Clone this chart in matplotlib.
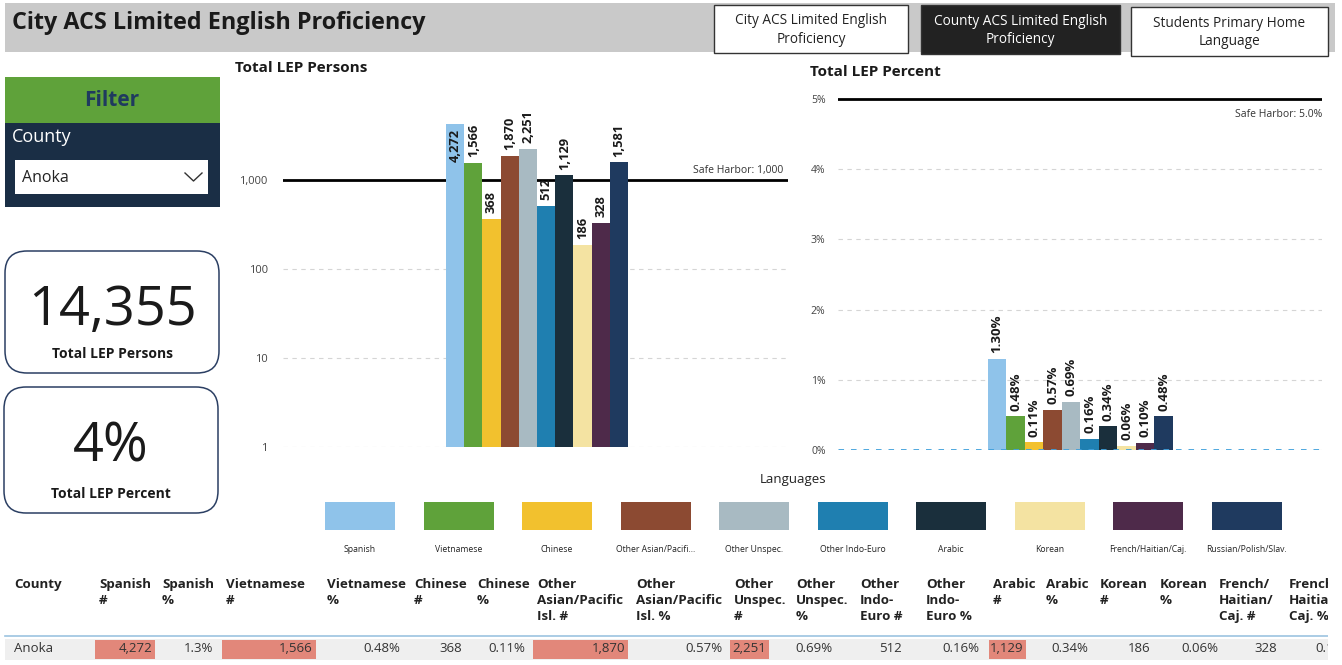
import numpy as np
import matplotlib.pyplot as plt
from matplotlib.patches import Rectangle, FancyBboxPatch

plt.rcParams['font.family'] = ['Open Sans', 'DejaVu Sans']

# data
county = 'Anoka'
languages = ['Spanish', 'Vietnamese', 'Chinese', 'Other Asian/Pacific Isl.', 'Other Unspec.',
             'Other Indo-Euro', 'Arabic', 'Korean', 'French/Haitian/Caj.', 'Russian/Polish/Slav.']
legend_labels = ['Spanish', 'Vietnamese', 'Chinese', 'Other Asian/Pacifi...', 'Other Unspec.',
                 'Other Indo-Euro', 'Arabic', 'Korean', 'French/Haitian/Caj.', 'Russian/Polish/Slav.']
persons = [4272, 1566, 368, 1870, 2251, 512, 1129, 186, 328, 1581]
percents = [1.30, 0.48, 0.11, 0.57, 0.69, 0.16, 0.34, 0.06, 0.10, 0.48]
colors = ['#8FC3EA', '#5FA23A', '#F2C12E', '#8C4A32', '#A8BAC2',
          '#1F7FB0', '#1A2F3C', '#F4E3A2', '#4E2A4A', '#1F3A5F']
total_persons = 14355
total_percent = 4
safe_harbor_persons = 1000
safe_harbor_pct = 5.0

# table (only the first 9 languages fit on screen)
table_headers = ['Spanish\n#', 'Spanish\n%', 'Vietnamese\n#', 'Vietnamese\n%', 'Chinese\n#', 'Chinese\n%',
                 'Other\nAsian/Pacific\nIsl. #', 'Other\nAsian/Pacific\nIsl. %', 'Other\nUnspec.\n#',
                 'Other\nUnspec.\n%', 'Other\nIndo-\nEuro #', 'Other\nIndo-\nEuro %', 'Arabic\n#', 'Arabic\n%',
                 'Korean\n#', 'Korean\n%', 'French/\nHaitian/\nCaj. #', 'French/\nHaitian/\nCaj. %']

W, H = 1342, 665
fig = plt.figure(figsize=(W / 100, H / 100), dpi=100)
fig.patch.set_facecolor('white')


def px_axes(x0, y0, x1, y1):
    return fig.add_axes([x0 / W, 1 - y1 / H, (x1 - x0) / W, (y1 - y0) / H])


bg = fig.add_axes([0, 0, 1, 1])
bg.set_xlim(0, W)
bg.set_ylim(H, 0)
bg.axis('off')

# header band
bg.add_patch(Rectangle((5, 3), 1330, 49, color='#C9C9C9', lw=0))
bg.text(12, 23, 'City ACS Limited English Proficiency', fontsize=16.8, fontweight='bold',
        color='#1a1a1a', va='center')
buttons = [(714, 5, 908, 53, 'white', '#222222', 'City ACS Limited English\nProficiency'),
           (921, 5, 1120, 54, '#222222', 'white', 'County ACS Limited English\nProficiency'),
           (1131, 7, 1328, 56, 'white', '#222222', 'Students Primary Home\nLanguage')]
for x0, y0, x1, y1, fc, tc, label in buttons:
    bg.add_patch(Rectangle((x0, y0), x1 - x0, y1 - y0, facecolor=fc, edgecolor='#333333', lw=1))
    bg.text((x0 + x1) / 2, (y0 + y1) / 2 + 1, label, ha='center', va='center', fontsize=9.8,
            color=tc, linespacing=1.3)

# filter panel
bg.add_patch(Rectangle((5, 77), 215, 47, color='#5FA23A', lw=0))
bg.text(112, 100, 'Filter', ha='center', va='center', fontsize=15, fontweight='bold', color='#1F3A5F')
bg.add_patch(Rectangle((5, 123), 215, 84, color='#1A2E45', lw=0))
bg.text(12, 137, 'County', va='center', fontsize=13, color='white')
bg.add_patch(Rectangle((15, 160), 193, 34, color='white', lw=0))
bg.text(22, 178, county, va='center', fontsize=11.5, color='#222222')
bg.plot([185, 193.5, 202], [173, 181, 173], color='#333333', lw=1)

# cards
cards = [(5, 251, 219, 373, f'{total_persons:,}', 'Total LEP Persons'),
         (4, 387, 218, 513, f'{total_percent}%', 'Total LEP Percent')]
for x0, y0, x1, y1, big, small in cards:
    bg.add_patch(FancyBboxPatch((x0, y0), x1 - x0, y1 - y0, boxstyle='round,pad=0,rounding_size=22',
                                facecolor='white', edgecolor='#2B3F63', lw=1.1))
    bg.text((x0 + x1) / 2, y0 + 60, big, ha='center', va='center', fontsize=39, color='#1a1a1a')
    bg.text((x0 + x1) / 2, y1 - 19, small, ha='center', va='center', fontsize=10,
            fontweight='bold', color='#1a1a1a')

# chart titles
bg.text(235, 68, 'Total LEP Persons', va='center', fontsize=11, fontweight='bold', color='#1a1a1a')
bg.text(810, 72, 'Total LEP Percent', va='center', fontsize=11, fontweight='bold', color='#1a1a1a')

x = np.arange(len(languages))

# left chart: persons (log scale)
ax1 = px_axes(283, 95, 788, 447)
ax1.set_facecolor('none')
ax1.set_yscale('log')
ax1.bar(x, persons, width=1.0, color=colors, zorder=3)
ax1.set_ylim(1, 9000)
ax1.set_xlim(-9.46, 18.29)
ax1.set_yticks([1, 10, 100, 1000])
ax1.set_yticklabels(['1', '10', '100', '1,000'])
ax1.minorticks_off()
ax1.set_xticks([])
ax1.tick_params(axis='y', length=0, pad=11, labelsize=8, labelcolor='#444444')
ax1.grid(axis='y', color='#D5D5D5', ls=(0, (4, 4)), lw=0.8)
ax1.axhline(safe_harbor_persons, color='black', lw=2, zorder=2)
ax1.annotate(f'Safe Harbor: {safe_harbor_persons:,}', xy=(0.99, safe_harbor_persons),
             xycoords=('axes fraction', 'data'), xytext=(0, 3), textcoords='offset points',
             ha='right', va='bottom', fontsize=7.5, color='#333333')
for i, v in enumerate(persons):
    if v > 3000:
        ax1.annotate(f'{v:,}', xy=(i, v), xytext=(0, -4), textcoords='offset points', rotation=90,
                     ha='center', va='top', fontsize=9.3, fontweight='bold', color='#1a1a1a', zorder=4)
    else:
        ax1.annotate(f'{v:,}', xy=(i, v), xytext=(0, 4), textcoords='offset points', rotation=90,
                     ha='center', va='bottom', fontsize=9.3, fontweight='bold', color='#1a1a1a', zorder=4)
for s in ax1.spines.values():
    s.set_visible(False)

# right chart: percent
ax2 = px_axes(838, 92, 1322, 450)
ax2.set_facecolor('none')
ax2.bar(x, percents, width=1.0, color=colors, zorder=3)
ax2.set_ylim(0, 5.1)
ax2.set_xlim(-8.6, 17.55)
ax2.set_yticks(range(6))
ax2.set_yticklabels([f'{t}%' for t in range(6)])
ax2.set_xticks([])
ax2.tick_params(axis='y', length=0, pad=9, labelsize=7.5, labelcolor='#444444')
ax2.grid(axis='y', color='#D5D5D5', ls=(0, (4, 4)), lw=0.8)
ax2.axhline(safe_harbor_pct, color='black', lw=2, zorder=2)
ax2.axhline(0, color='#3FA0DC', lw=2, ls=(0, (2, 2.5)), zorder=4)
ax2.annotate(f'Safe Harbor: {safe_harbor_pct:.1f}%', xy=(1.0, safe_harbor_pct),
             xycoords=('axes fraction', 'data'), xytext=(0, -7), textcoords='offset points',
             ha='right', va='top', fontsize=7.5, color='#333333')
for i, v in enumerate(percents):
    ax2.annotate(f'{v:.2f}%', xy=(i, v), xytext=(0, 4), textcoords='offset points', rotation=90,
                 ha='center', va='bottom', fontsize=9.5, fontweight='bold', color='#1a1a1a', zorder=5)
for s in ax2.spines.values():
    s.set_visible(False)

# legend
bg.text(793, 480, 'Languages', ha='center', va='center', fontsize=9.5, color='#222222')
for i, (c, lab) in enumerate(zip(colors, legend_labels)):
    cx = 360 + i * 98.5
    bg.add_patch(Rectangle((cx - 35, 502), 70, 28, color=c, lw=0))
    bg.text(cx, 550, lab, ha='center', va='center', fontsize=6.2, color='#222222')

# table (rightmost column is cut off by the visual's edge, as on screen)
tab = px_axes(0, 565, 1328, 665)
tab.set_xlim(0, 1328)
tab.set_ylim(665, 565)
tab.axis('off')
col_x = [99, 162, 226, 327, 414, 477, 537, 636, 734, 796, 860, 926, 993, 1046, 1100, 1160, 1219, 1289]
val_right = [152, 213, 313, 400, 462, 525, 625, 722, 766, 833, 902, 979, 1023, 1088, 1150, 1218, 1277, 1345]
tab.add_patch(Rectangle((5, 639), 1323, 21, color='#EFEFEF', lw=0))
tab.plot([5, 1328], [636, 636], color='#9CC3E0', lw=1.2)
tab.text(14, 578, 'County', va='top', fontsize=9.6, fontweight='bold', color='#222222', clip_on=True)
tab.text(14, 649, county, va='center', fontsize=9.5, color='#333333', clip_on=True)
values = []
for p, q in zip(persons[:9], percents[:9]):
    values.append((p, f'{p:,}'))
    values.append((None, f'{q:.2f}'.rstrip('0').rstrip('.') + '%'))
for j, (hdr, (num, txt)) in enumerate(zip(table_headers, values)):
    tab.text(col_x[j], 578, hdr, va='top', fontsize=9.6, fontweight='bold', color='#222222',
             linespacing=1.3, clip_on=True)
    if num is not None and num >= safe_harbor_persons:
        tab.add_patch(Rectangle((col_x[j] - 4, 640), val_right[j] + 3 - (col_x[j] - 4), 19,
                                color='#E2877A', lw=0))
    tab.text(val_right[j], 649, txt, ha='right', va='center', fontsize=9.5, color='#333333', clip_on=True)

fig.savefig('out.png', dpi=100)
